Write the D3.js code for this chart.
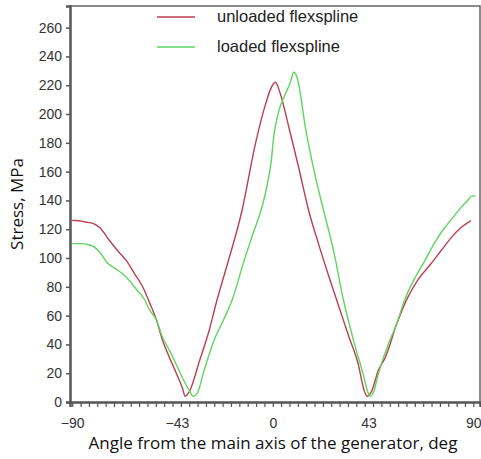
<!DOCTYPE html>
<html>
<head>
<meta charset="utf-8">
<script src="https://cdn.jsdelivr.net/npm/d3@7"></script>
<style>
  body { margin: 0; background: #fff; }
  svg { display: block; }
</style>
</head>
<body>
<div id="chart"></div>
<script>
// stress along the flexspline
var unloadedAngle = [-90, -87.9, -84.3, -80.7, -77.6, -73.2, -69.6, -65.6, -62, -58.4, -55.3, -52.2, -49.5, -46.4, -43.3, -40.6, -39.3, -37.5, -33, -28.5, -25, -20.5, -13.8, -7.7, -3.2, -0.8, 1.2, 3.2, 7.2, 11.6, 16.1, 20.5, 25, 29.5, 34, 38.4, 41, 42.4, 44.2, 47.4, 50.5, 55.8, 60.7, 65.2, 71, 75.5, 80, 84.4, 88.9];
var unloadedStress = [126, 126, 125, 124, 121, 112, 105, 98, 89, 80, 69, 57, 43, 31, 20, 10, 4, 7, 28, 50, 71, 95, 133, 180, 207, 218, 222, 215, 191, 163, 133, 110, 88, 67, 46, 26, 8, 4, 7, 22, 31, 55, 73, 85, 96, 105, 114, 121, 126];

var loadedAngle = [-90, -86.6, -82.1, -77.6, -74.5, -71, -67.4, -64.2, -61.1, -57.5, -55.3, -52.2, -49.5, -46.4, -43.3, -40.6, -37.5, -35.7, -33.9, -30.8, -26.3, -21.8, -18.2, -12.9, -8.4, -5.3, -2.6, -0.8, 0.5, 2.7, 5.7, 8.1, 9.4, 10.8, 11.6, 14.6, 17.5, 19.2, 22.8, 27.3, 31.7, 36.2, 40.6, 42.9, 43.8, 45.5, 47.3, 51.8, 55.8, 59.2, 63.4, 68.2, 72.8, 77.1, 80.8, 84.4, 87.5, 89.3, 91.1];
var loadedStress = [110, 110, 109, 104, 97, 93, 89, 84, 78, 71, 64, 57, 45, 36, 26, 17, 8, 4, 6, 22, 43, 58, 71, 98, 119, 133, 150, 166, 185, 202, 214, 223, 229, 226, 221, 191, 168, 156, 133, 105, 71, 43, 19, 6, 4, 8, 19, 40, 55, 71, 85, 98, 111, 121, 128, 135, 140, 143, 143];

var xTickLabels = [-90, -43, 0, 43, 90];
var yTicks = d3.range(0, 261, 20);
var seriesNames = ["unloaded flexspline", "loaded flexspline"];
var seriesColors = ["#b8404e", "#5fd45f"];

var width = 481, height = 459;
var margin = {top: 6, right: 1, bottom: 57, left: 70};
var w = width - margin.left - margin.right,
    h = height - margin.top - margin.bottom;

var svg = d3.select("#chart").append("svg")
    .attr("width", width)
    .attr("height", height);

var g = svg.append("g")
    .attr("transform", "translate(" + margin.left + "," + margin.top + ")");

var x = d3.scaleLinear().domain([-91, 93]).range([0, w]);
var y = d3.scaleLinear().domain([0, 275]).range([h, 0]);

// frame (top & right)
g.append("path")
  .attr("d", "M0,0H" + w + "V" + h)
  .attr("fill", "none")
  .attr("stroke", "#666")
  .attr("stroke-width", 1.5);

// y axis
var yAxis = g.append("g")
  .call(d3.axisLeft(y).tickValues(yTicks).tickSize(4).tickPadding(4));
yAxis.select(".domain").attr("stroke", "#555").attr("stroke-width", 2.5);
yAxis.selectAll(".tick line").attr("stroke", "#555").attr("stroke-width", 1.5);
yAxis.selectAll("text")
  .attr("font-family", "Liberation Sans, Arial, sans-serif")
  .attr("font-size", 14).attr("fill", "#333");

// x axis: minor ticks and labels
var minor = d3.range(0, 49).map(function(i) { return -90 + i * 3.75; });
var xMinor = g.append("g")
  .attr("transform", "translate(0," + h + ")")
  .call(d3.axisBottom(x).tickValues(minor).tickSize(5).tickFormat(""));
xMinor.select(".domain").attr("stroke", "#555").attr("stroke-width", 2.5);
xMinor.selectAll(".tick line").attr("stroke", "#555").attr("stroke-width", 1.2);

var xLab = g.append("g")
  .attr("transform", "translate(0," + h + ")")
  .call(d3.axisBottom(x).tickValues(xTickLabels).tickSize(0).tickPadding(16));
xLab.select(".domain").remove();
xLab.selectAll("text")
  .attr("font-family", "Liberation Sans, Arial, sans-serif")
  .attr("font-size", 14).attr("fill", "#333");

// lines
var line = d3.line()
  .curve(d3.curveMonotoneX)
  .x(function(d) { return x(d[0]); })
  .y(function(d) { return y(d[1]); });

var series = [
  d3.zip(unloadedAngle, unloadedStress),
  d3.zip(loadedAngle, loadedStress)
];

g.selectAll(".series")
  .data(series)
  .enter()
  .append("path")
    .attr("class", "series")
    .attr("fill", "none")
    .attr("stroke", function(d, i) { return seriesColors[i]; })
    .attr("stroke-width", 1.4)
    .attr("stroke-linejoin", "round")
    .attr("d", line);

// legend
var legend = svg.selectAll(".legend")
  .data(seriesNames)
  .enter()
  .append("g")
    .attr("class", "legend")
    .attr("transform", function(d, i) { return "translate(157," + (17 + i * 30) + ")"; });
legend.append("line")
  .attr("x1", 0).attr("x2", 38)
  .attr("stroke", function(d, i) { return seriesColors[i]; })
  .attr("stroke-width", 1.5);
legend.append("text")
  .attr("x", 60).attr("y", 5)
  .attr("font-family", "Liberation Sans, Arial, sans-serif")
  .attr("font-size", 16.5).attr("fill", "#222")
  .text(function(d) { return d; });

// axis titles
svg.append("text")
  .attr("transform", "translate(23," + (margin.top + h / 2) + ") rotate(-90)")
  .attr("text-anchor", "middle")
  .attr("font-family", "Open Sans, sans-serif")
  .attr("font-size", 17).attr("fill", "#111")
  .text("Stress, MPa");

svg.append("text")
  .attr("x", 273).attr("y", 449)
  .attr("text-anchor", "middle")
  .attr("font-family", "Open Sans, sans-serif")
  .attr("font-size", 17).attr("fill", "#111")
  .text("Angle from the main axis of the generator, deg");
</script>
</body>
</html>
